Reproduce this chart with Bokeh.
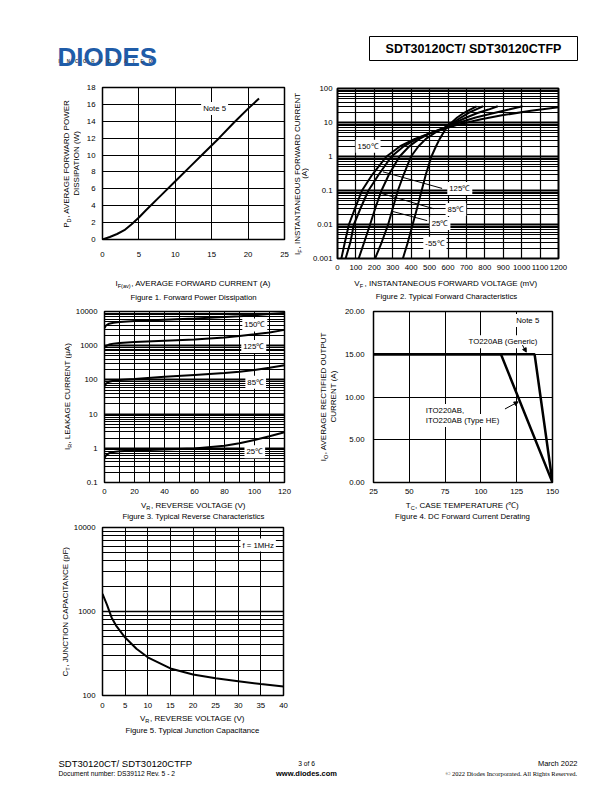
import math
from bokeh.plotting import figure
from bokeh.models import (Range1d, FixedTicker, Label, Arrow, NormalHead,
                          CustomJSTickFormatter, PrintfTickFormatter)
from bokeh.layouts import column, row
from bokeh.core.properties import value
from bokeh.embed import file_html
from bokeh.resources import INLINE

FONT = "Liberation Sans"
TS = 7.8      # tick / in-plot text size
TT = 8.0      # axis title size

# ---------------- Figure 1 : forward power dissipation ----------------
f1_current = [0, 1, 2, 3, 4, 5, 6, 8, 10, 12, 14, 16, 18, 20, 21.5]
f1_power = [0, 0.3, 0.65, 1.1, 1.8, 2.6, 3.5, 5.2, 6.9, 8.6, 10.3, 12.0, 13.8, 15.5, 16.7]
f1_xticks = [0, 5, 10, 15, 20, 25]
f1_yticks = [0, 2, 4, 6, 8, 10, 12, 14, 16, 18]

# ---------------- Figure 2 : typical forward characteristics ----------------
f2_xticks = [0, 100, 200, 300, 400, 500, 600, 700, 800, 900, 1000, 1100, 1200]
f2_yticks = [0.001, 0.01, 0.1, 1, 10, 100]
f2_v_150 = [21, 40, 62, 95, 133, 190, 266, 340, 420, 500, 580, 660, 780, 900, 1050, 1200]
f2_i_150 = [0.001, 0.003, 0.01, 0.03, 0.1, 0.3, 1, 2, 3.3, 4.8, 6.5, 8.8, 12.5, 16.5, 22, 28]
f2_v_125 = [44, 70, 89, 125, 168, 225, 293, 360, 430, 500, 580, 650, 750, 850, 930, 1005]
f2_i_125 = [0.001, 0.003, 0.01, 0.03, 0.1, 0.3, 1, 2, 3.3, 4.8, 6.8, 9.5, 14, 19, 24, 30]
f2_v_85 = [115, 145, 177, 205, 239, 280, 337, 390, 445, 510, 580, 640, 700, 760, 820, 870]
f2_i_85 = [0.001, 0.003, 0.01, 0.03, 0.1, 0.3, 1, 2, 3.3, 5, 7, 10, 14, 19, 24, 30]
f2_v_25 = [204, 240, 275, 300, 328, 360, 399, 440, 480, 530, 585, 630, 670, 710, 750, 790]
f2_i_25 = [0.001, 0.003, 0.01, 0.03, 0.1, 0.3, 1, 2, 3.3, 5, 7.2, 10, 14, 19, 24, 30]
f2_v_m55 = [355, 382, 408, 432, 457, 480, 510, 535, 555, 575, 595, 620, 650, 685, 720, 755]
f2_i_m55 = [0.001, 0.003, 0.01, 0.03, 0.1, 0.3, 1, 2, 3.3, 5, 7.5, 10, 14, 19, 24, 30]
f2_labels = ["150℃", "125℃", "85℃", "25℃", "-55℃"]
f2_label_v = [166, 664, 643, 557, 529]
f2_label_i = [2.0, 0.115, 0.0277, 0.0107, 0.0028]
f2_lead_v0 = [568, 523, 487]
f2_lead_i0 = [0.115, 0.029, 0.013]
f2_lead_v1 = [246, 229, 296]
f2_lead_i1 = [0.355, 0.085, 0.0245]

# ---------------- Figure 3 : typical reverse characteristics ----------------
f3_xticks = [0, 20, 40, 60, 80, 100, 120]
f3_xminor = [10, 30, 50, 70, 90, 110]
f3_yticks = [0.1, 1, 10, 100, 1000, 10000]
f3_v = [0, 1, 3, 6, 10, 20, 40, 60, 80, 90, 100, 110, 120]
f3_i_150 = [3300, 3900, 4400, 4700, 4950, 5250, 5700, 6200, 6900, 7300, 7800, 8400, 9000]
f3_i_125 = [880, 980, 1080, 1150, 1200, 1280, 1400, 1530, 1750, 1920, 2150, 2450, 2900]
f3_i_85 = [65, 78, 88, 95, 100, 107, 124, 140, 158, 174, 195, 225, 270]
f3_i_25 = [0.52, 0.62, 0.72, 0.78, 0.82, 0.86, 0.92, 0.99, 1.18, 1.4, 1.75, 2.25, 2.95]
f3_labels = ["150℃", "125℃", "85℃", "25℃"]
f3_label_v = [100.2, 99.5, 100.8, 100.2]
f3_label_i = [4050, 950, 86, 0.79]

# ---------------- Figure 4 : DC forward current derating ----------------
f4_xticks = [25, 50, 75, 100, 125, 150]
f4_yticks = [0, 5, 10, 15, 20]
f4_t_generic = [25, 137.5, 150]
f4_i_generic = [15, 15, 0]
f4_t_ito = [25, 114, 150]
f4_i_ito = [15, 15, 0]

# ---------------- Figure 5 : typical junction capacitance ----------------
f5_xticks = [0, 5, 10, 15, 20, 25, 30, 35, 40]
f5_yticks = [100, 1000, 10000]
f5_v = [0, 1, 2, 3, 5, 7.5, 10, 15, 20, 25, 30, 35, 40]
f5_c = [1620, 1200, 850, 680, 490, 360, 285, 210, 178, 160, 148, 137, 128]

AFM = {' ': 278, '!': 278, '(': 333, ')': 333, ',': 278, '-': 333, '.': 278, '/': 278,
       ':': 278, '=': 584, '℃': 1000, 'μ': 576}
for d in "0123456789":
    AFM[d] = 556
AFM.update(dict(A=667, B=667, C=722, D=722, E=667, F=611, G=778, H=722, I=278, J=500, K=667,
                L=556, M=833, N=722, O=778, P=667, Q=778, R=722, S=667, T=611, U=722, V=667,
                W=944, X=667, Y=667, Z=611, a=556, b=556, c=500, d=556, e=556, f=278, g=556,
                h=556, i=222, j=222, k=500, l=222, m=833, n=556, o=556, p=556, q=556, r=333,
                s=500, t=278, u=556, v=500, w=722, x=500, y=500, z=500))


def tw(s, size):
    return sum(AFM.get(ch, 556) for ch in s) / 1000.0 * size


def no_align(p):
    if "frame_align" in p.properties():
        p.frame_align = False


def blank(x0, x1, y0, y1):
    """A figure without axes whose data space equals page pixels (y downwards)."""
    p = figure(width=x1 - x0, height=y1 - y0, x_range=Range1d(x0, x1), y_range=Range1d(y1, y0),
               x_axis_type=None, y_axis_type=None, toolbar_location=None,
               output_backend="svg", min_border=0)
    p.outline_line_color = None
    p.grid.visible = False
    p.background_fill_color = "white"
    p.border_fill_color = "white"
    no_align(p)
    return p


def rich(p, px, py, parts, size=TT, rotated=False, align="center"):
    sub = size * 0.7
    widths = [tw(t, sub if s else size) for t, s in parts]
    total = sum(widths)
    off = -total / 2 if align == "center" else (0 if align == "left" else -total)
    for (t, s), w in zip(parts, widths):
        mid = off + w / 2
        fs = f"{(sub if s else size):.2f}px"
        if not rotated:
            p.text(x=[px + mid], y=[py + (size * 0.3 if s else 0)], text=[t], text_font=value(FONT),
                   text_font_size=fs, text_color="black", text_align="center", text_baseline="middle")
        else:
            p.add_layout(Label(x=px + (size * 0.3 if s else 0), y=py - mid, text=t,
                               text_font=FONT, text_font_size=fs, text_color="black",
                               text_align="center", text_baseline="middle", angle=math.pi / 2))
        off += w


def make_fig(width, height, bl, br, bt, bb, xr, yr, ylog=False, outline=1.5):
    p = figure(width=width, height=height, x_range=Range1d(*xr), y_range=Range1d(*yr),
               y_axis_type="log" if ylog else "linear", toolbar_location=None,
               output_backend="svg", min_border_left=bl, min_border_right=br,
               min_border_top=bt, min_border_bottom=bb)
    no_align(p)
    p.outline_line_color = "black"
    p.outline_line_width = outline
    p.outline_line_alpha = 1
    p.background_fill_color = "white"
    p.border_fill_color = "white"
    for ax in p.axis:
        ax.axis_line_color = None
        ax.major_tick_line_color = None
        ax.minor_tick_line_color = None
        ax.major_tick_out = 0
        ax.major_tick_in = 0
        ax.minor_tick_out = 0
        ax.minor_tick_in = 0
        ax.major_label_text_font = FONT
        ax.major_label_text_font_size = f"{TS}px"
        ax.major_label_text_color = "black"
    for g in p.grid:
        g.grid_line_color = "black"
        g.grid_line_alpha = 1
        g.grid_line_width = 1
    return p


def box_label(p, x, y, text, size=TS, align="center"):
    p.add_layout(Label(x=x, y=y, text=text, text_font=FONT, text_font_size=f"{size}px",
                       text_align=align, text_baseline="middle", text_color="black",
                       background_fill_color="white", background_fill_alpha=1, padding=2))


def logfmt():
    return CustomJSTickFormatter(code="return tick.toString();")


# ================= header (y 0..75) =================
hdr = blank(0, 612, 0, 75)
hdr.text(x=[57], y=[56], text=["DIODES"], text_font=value(FONT), text_font_style="bold",
         text_font_size="26px", text_color="#1f5ca8", text_align="left", text_baseline="alphabetic")
inc = list("INCORPORATED")
hdr.text(x=[58 + 8.2 * k for k in range(len(inc))], y=[61] * len(inc), text=inc,
         text_font=value(FONT), text_font_style="bold", text_font_size="4.5px",
         text_color="#444444", text_align="left", text_baseline="middle")
hdr.quad(left=[369], right=[577], top=[36], bottom=[60], fill_color=None, line_color="black", line_width=1)
hdr.text(x=[473], y=[48.5], text=["SDT30120CT/ SDT30120CTFP"], text_font=value(FONT),
         text_font_style="bold", text_font_size="12.5px", text_color="black",
         text_align="center", text_baseline="middle")

# ================= band A (y 75..275) : figures 1 and 2 =================
la1 = blank(0, 81, 75, 275)
rich(la1, 66, 163, [("P", False), ("D", True), (", AVERAGE FORWARD POWER", False)], rotated=True)
rich(la1, 76, 163, [("DISSIPATION (W)", False)], rotated=True)

p1 = make_fig(211, 200, 21, 8, 12, 36, (0, 25), (0, 18))
p1.xaxis.ticker = FixedTicker(ticks=f1_xticks)
p1.yaxis.ticker = FixedTicker(ticks=f1_yticks)
p1.xaxis.major_label_standoff = 12
p1.yaxis.major_label_standoff = 7
p1.line(f1_current, f1_power, line_width=2, color="black")
box_label(p1, 15.4, 15.5, "Note 5")

la2 = blank(292, 309, 75, 275)
rich(la2, 297, 173, [("I", False), ("F", True), (", INSTANTANEOUS FORWARD CURRENT", False)], rotated=True)
rich(la2, 304, 173, [("(A)", False)], rotated=True)

p2 = make_fig(303, 200, 25, 54, 13, 17, (0, 1200), (0.001, 100), ylog=True, outline=2)
p2.xaxis.ticker = FixedTicker(ticks=f2_xticks)
p2.yaxis.ticker = FixedTicker(ticks=f2_yticks,
                              minor_ticks=[k * d for d in [0.001, 0.01, 0.1, 1, 10] for k in range(2, 10)])
p2.yaxis.formatter = logfmt()
p2.xaxis.major_label_standoff = 6
p2.yaxis.major_label_standoff = 5
p2.ygrid.grid_line_width = 2.2
p2.ygrid.minor_grid_line_color = "black"
p2.ygrid.minor_grid_line_width = 1
p2.xgrid.grid_line_width = 1.2
for vv, ii in [(f2_v_150, f2_i_150), (f2_v_125, f2_i_125), (f2_v_85, f2_i_85),
               (f2_v_25, f2_i_25), (f2_v_m55, f2_i_m55)]:
    p2.line(vv, ii, line_width=2, color="black")
p2.segment(f2_lead_v0, f2_lead_i0, f2_lead_v1, f2_lead_i1, line_width=1, color="black")
for t, xv, yv in zip(f2_labels, f2_label_v, f2_label_i):
    box_label(p2, xv, yv, t)

# ================= band B (y 275..305) : titles of figures 1 and 2 =================
bb = blank(0, 612, 275, 305)
rich(bb, 193, 283, [("I", False), ("F(av)", True), (", AVERAGE FORWARD CURRENT (A)", False)])
rich(bb, 193, 297, [("Figure 1. Forward Power Dissipation", False)], size=TS)
rich(bb, 446, 283, [("V", False), ("F", True), (", INSTANTANEOUS FORWARD VOLTAGE (mV)", False)])
rich(bb, 446, 296, [("Figure 2. Typical Forward Characteristics", False)], size=TS)

# ================= band C (y 305..498) : figures 3 and 4 =================
lc1 = blank(0, 72, 305, 498)
rich(lc1, 67, 396, [("I", False), ("R", True), (", LEAKAGE CURRENT (μA)", False)], rotated=True)

p3 = make_fig(220, 193, 30, 8, 6, 16, (0, 120), (0.1, 10000), ylog=True)
p3.xaxis.ticker = FixedTicker(ticks=f3_xticks, minor_ticks=f3_xminor)
p3.yaxis.ticker = FixedTicker(ticks=f3_yticks,
                              minor_ticks=[k * d for d in [0.1, 1, 10, 100, 1000] for k in range(2, 10)])
p3.yaxis.formatter = logfmt()
p3.xaxis.major_label_standoff = 6
p3.yaxis.major_label_standoff = 7
p3.xgrid.minor_grid_line_color = "black"
p3.xgrid.minor_grid_line_width = 1
p3.ygrid.grid_line_width = 2.2
p3.ygrid.minor_grid_line_color = "black"
p3.ygrid.minor_grid_line_width = 1
for ii in [f3_i_150, f3_i_125, f3_i_85, f3_i_25]:
    p3.line(f3_v, ii, line_width=2, color="black")
for t, xv, yv in zip(f3_labels, f3_label_v, f3_label_i):
    box_label(p3, xv, yv, t)

lc2 = blank(292, 341, 305, 498)
rich(lc2, 323, 396, [("I", False), ("O", True), (", AVERAGE RECTIFIED OUTPUT", False)], rotated=True)
rich(lc2, 333, 396, [("CURRENT (A)", False)], rotated=True)

p4 = make_fig(271, 193, 30, 60, 6, 16, (25, 150), (0, 20))
p4.xaxis.ticker = FixedTicker(ticks=f4_xticks)
p4.yaxis.ticker = FixedTicker(ticks=f4_yticks)
p4.yaxis.formatter = PrintfTickFormatter(format="%.2f")
p4.xaxis.major_label_standoff = 6
p4.yaxis.major_label_standoff = 9
p4.line(f4_t_ito, f4_i_ito, line_width=2.5, color="black")
p4.line(f4_t_generic, f4_i_generic, line_width=2.5, color="black")
box_label(p4, 132.7, 18.94, "Note 5")
box_label(p4, 90, 16.46, "TO220AB (Generic)", align="left")
box_label(p4, 60.1, 8.41, "ITO220AB,", align="left")
box_label(p4, 60.1, 7.24, "ITO220AB (Type HE)", align="left")
p4.add_layout(Arrow(end=NormalHead(size=4, fill_color="black", line_color="black"),
                    x_start=129.0, y_start=16.07, x_end=131.7, y_end=15.25,
                    line_width=1, line_color="black"))
p4.add_layout(Arrow(end=NormalHead(size=4, fill_color="black", line_color="black"),
                    x_start=116.8, y_start=8.6, x_end=126.0, y_end=9.43,
                    line_width=1, line_color="black"))

# ================= band D (y 498..522) : titles of figures 3 and 4 =================
bd = blank(0, 612, 498, 522)
rich(bd, 193, 505, [("V", False), ("R", True), (", REVERSE VOLTAGE (V)", False)])
rich(bd, 193, 516, [("Figure 3. Typical Reverse Characteristics", False)], size=TS)
rich(bd, 462, 505, [("T", False), ("C", True), (", CASE TEMPERATURE (℃)", False)])
rich(bd, 462, 516, [("Figure 4. DC Forward Current Derating", False)], size=TS)

# ================= band E (y 522..712) : figure 5 =================
le1 = blank(0, 70, 522, 712)
rich(le1, 65, 611, [("C", False), ("T", True), (", JUNCTION CAPACITANCE (pF)", False)], rotated=True)

p5 = make_fig(222, 190, 31, 9, 5, 17, (0, 40), (100, 10000), ylog=True)
p5.xaxis.ticker = FixedTicker(ticks=f5_xticks)
p5.yaxis.ticker = FixedTicker(ticks=f5_yticks,
                              minor_ticks=[k * d for d in [100, 1000] for k in range(2, 10)])
p5.yaxis.formatter = logfmt()
p5.xaxis.major_label_standoff = 7
p5.yaxis.major_label_standoff = 7
p5.ygrid.grid_line_width = 1.5
p5.ygrid.minor_grid_line_color = "black"
p5.ygrid.minor_grid_line_width = 1
p5.line(f5_v, f5_c, line_width=2, color="black")
box_label(p5, 34.4, 6170, "f = 1MHz")

# ================= band F (y 712..736) : titles of figure 5 =================
bf = blank(0, 612, 712, 736)
rich(bf, 192, 718, [("V", False), ("R", True), (", REVERSE VOLTAGE (V)", False)])
rich(bf, 192, 730, [("Figure 5. Typical Junction Capacitance", False)], size=TS)

# ================= footer (y 736..786) =================
ftr = blank(0, 612, 736, 786)
ftr.text(x=[58], y=[763], text=["SDT30120CT/ SDT30120CTFP"], text_font=value(FONT),
         text_font_size="9.5px", text_color="black", text_align="left", text_baseline="middle")
ftr.text(x=[58], y=[773], text=["Document number: DS39112  Rev. 5 - 2"], text_font=value(FONT),
         text_font_size="6.7px", text_color="black", text_align="left", text_baseline="middle")
ftr.text(x=[306], y=[763], text=["3 of 6"], text_font=value(FONT),
         text_font_size="6.7px", text_color="black", text_align="center", text_baseline="middle")
ftr.text(x=[306], y=[773], text=["www.diodes.com"], text_font=value(FONT), text_font_style="bold",
         text_font_size="7.5px", text_color="black", text_align="center", text_baseline="middle")
ftr.text(x=[577], y=[763], text=["March 2022"], text_font=value(FONT),
         text_font_size="7.5px", text_color="black", text_align="right", text_baseline="middle")
ftr.text(x=[577], y=[773], text=["© 2022 Diodes Incorporated. All Rights Reserved."],
         text_font=value("Liberation Serif"), text_font_size="6.5px", text_color="black",
         text_align="right", text_baseline="middle")

layout = column(hdr, row(la1, p1, la2, p2), bb, row(lc1, p3, lc2, p4), bd, row(le1, p5), bf, ftr)
open("out.html", "w").write(file_html(layout, INLINE))
